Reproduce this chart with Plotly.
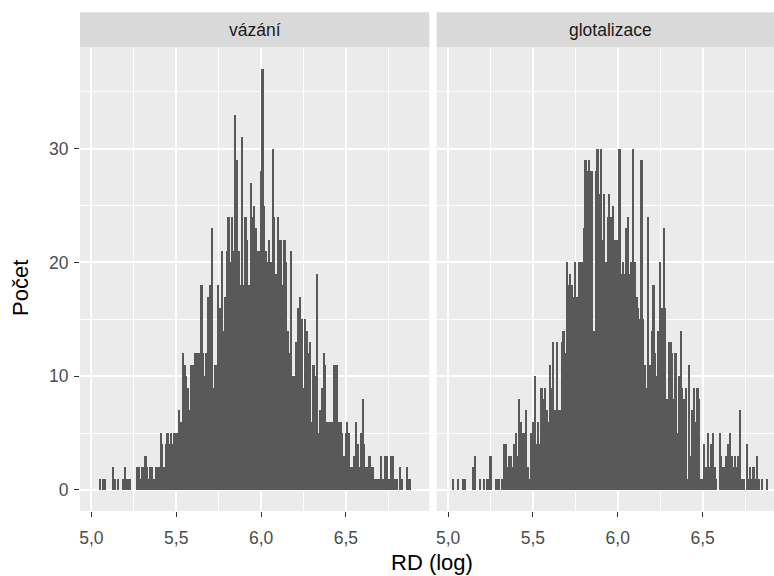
import plotly.graph_objects as go

# ---- histogram data: counts per 0.01-wide bin of RD (log) ----
bin_width = 0.01

vazani_first_bin = 5.05
vazani_counts = [
    1, 0, 1, 1, 0, 0, 0, 0, 2, 1,
    0, 1, 0, 0, 1, 2, 1, 1, 1, 0,
    0, 0, 2, 2, 1, 2, 2, 3, 2, 1,
    2, 2, 1, 2, 2, 2, 5, 4, 2, 4,
    5, 4, 5, 4, 5, 5, 5, 7, 6, 12,
    11, 10, 9, 7, 11, 11, 12, 12, 12, 12,
    18, 12, 10, 12, 17, 18, 23, 9, 11, 11,
    18, 16, 21, 14, 17, 21, 24, 20, 24, 21,
    33, 29, 21, 18, 31, 18, 24, 22, 18, 27,
    24, 25, 23, 21, 21, 28, 37, 25, 21, 20,
    22, 20, 30, 24, 19, 24, 22, 22, 18, 22,
    20, 14, 12, 21, 10, 10, 13, 16, 17, 15,
    9, 15, 14, 12, 13, 6, 11, 10, 19, 5,
    7, 9, 12, 11, 6, 6, 6, 6, 11, 11,
    11, 6, 6, 5, 3, 5, 6, 5, 2, 2,
    3, 6, 4, 2, 5, 8, 4, 2, 2, 3,
    2, 2, 1, 1, 1, 1, 3, 1, 3, 3,
    1, 1, 3, 3, 1, 1, 0, 2, 1, 0,
    0, 2, 1, 1,
]

glot_first_bin = 5.02
glot_counts = [
    0, 1, 0, 0, 1, 0, 0, 1, 1, 0,
    0, 0, 0, 2, 3, 0, 0, 1, 0, 1,
    0, 1, 1, 3, 0, 0, 1, 1, 1, 0,
    1, 4, 4, 2, 3, 3, 2, 4, 5, 3,
    8, 6, 5, 5, 7, 2, 1, 5, 6, 10,
    4, 6, 4, 9, 8, 9, 7, 6, 11, 9,
    13, 7, 13, 7, 7, 13, 14, 12, 20, 18,
    19, 18, 17, 20, 17, 20, 20, 20, 23, 29,
    28, 29, 28, 28, 14, 28, 30, 26, 30, 22,
    26, 20, 24, 26, 24, 25, 22, 22, 22, 30,
    19, 20, 19, 23, 24, 19, 20, 30, 20, 17,
    16, 15, 29, 15, 11, 9, 24, 11, 14, 18,
    12, 10, 14, 20, 16, 23, 16, 8, 13, 13,
    12, 8, 12, 5, 10, 14, 9, 8, 9, 1,
    11, 3, 7, 9, 6, 9, 8, 1, 1, 4,
    2, 5, 2, 4, 5, 2, 1, 0, 5, 3,
    2, 2, 3, 4, 5, 3, 2, 3, 2, 3,
    7, 1, 1, 0, 4, 1, 2, 1, 2, 1,
    3, 1, 0, 1, 0, 0, 1,
]

panel_titles = ["vázání", "glotalizace"]
x_ticks = [5.0, 5.5, 6.0, 6.5]
x_tick_labels = ["5,0", "5,5", "6,0", "6,5"]
x_minor = [5.25, 5.75, 6.25, 6.75]
y_ticks = [0, 10, 20, 30]
y_tick_labels = ["0", "10", "20", "30"]
y_minor = [5, 15, 25, 35]


def bin_centers(first, counts):
    return [round(first + i * bin_width, 4) for i in range(len(counts))]


# ---- page geometry (pixels) ----
W, H = 774, 576
FONT = "Liberation Sans, Arial, Helvetica, sans-serif"
PANEL_BG = "#EBEBEB"
STRIP_BG = "#D9D9D9"
BAR = "#595959"

panel_top, panel_bottom = 48, 511
left_x0, left_x1 = 80, 429.3
right_x0, right_x1 = 436.7, 784.0      # right panel runs past the page edge
strip_top, strip_bottom = 12.3, 47.5

x_lo = 4.933
px_per_unit = 169.7
x_hi_left = x_lo + (left_x1 - left_x0) / px_per_unit
x_hi_right = x_lo + (W - right_x0) / px_per_unit
y_range = [-1.85, 38.85]


def fx(p):
    return p / W


def fy(p):
    return 1 - p / H


fig = go.Figure()
fig.add_trace(go.Bar(
    x=bin_centers(vazani_first_bin, vazani_counts), y=vazani_counts,
    width=bin_width, marker=dict(color=BAR, line=dict(width=0)),
    xaxis="x", yaxis="y", showlegend=False, hoverinfo="x+y"))
fig.add_trace(go.Bar(
    x=bin_centers(glot_first_bin, glot_counts), y=glot_counts,
    width=bin_width, marker=dict(color=BAR, line=dict(width=0)),
    xaxis="x2", yaxis="y2", showlegend=False, hoverinfo="x+y"))

tick_font = dict(family=FONT, size=17.5, color="#4D4D4D")

xaxis_common = dict(
    tickmode="array", tickvals=x_ticks, ticktext=x_tick_labels,
    ticks="outside", ticklen=5, tickwidth=1.1, tickcolor="#333333",
    tickfont=tick_font, ticklabelstandoff=6,
    showgrid=True, gridcolor="white", gridwidth=2,
    minor=dict(tickmode="array", tickvals=x_minor, showgrid=True,
               gridcolor="white", gridwidth=1, ticks=""),
    zeroline=False, showline=False, fixedrange=True,
)
yaxis_common = dict(
    range=y_range, domain=[fy(panel_bottom), fy(panel_top)],
    tickmode="array", tickvals=y_ticks, ticktext=y_tick_labels,
    showgrid=True, gridcolor="white", gridwidth=2,
    minor=dict(tickmode="array", tickvals=y_minor, showgrid=True,
               gridcolor="white", gridwidth=1, ticks=""),
    zeroline=False, showline=False, fixedrange=True,
)

fig.update_layout(
    width=W, height=H,
    margin=dict(l=0, r=0, t=0, b=0),
    paper_bgcolor="white", plot_bgcolor=PANEL_BG,
    bargap=0, barmode="overlay",
    font=dict(family=FONT, color="#1A1A1A"),
    xaxis=dict(domain=[fx(left_x0), fx(left_x1)], range=[x_lo, x_hi_left],
               anchor="y", **xaxis_common),
    xaxis2=dict(domain=[fx(right_x0), 1.0], range=[x_lo, x_hi_right],
                anchor="y2", **xaxis_common),
    yaxis=dict(anchor="x", ticks="outside", ticklen=5, tickwidth=1.1,
               tickcolor="#333333", tickfont=tick_font,
               ticklabelstandoff=2, **yaxis_common),
    yaxis2=dict(anchor="x2", showticklabels=False, ticks="", **yaxis_common),
)

# facet strips
for x0, x1 in [(left_x0, left_x1), (right_x0, right_x1)]:
    fig.add_shape(type="rect", xref="paper", yref="paper",
                  x0=fx(x0), x1=fx(x1), y0=fy(strip_bottom), y1=fy(strip_top),
                  fillcolor=STRIP_BG, line=dict(width=0), layer="below")

strip_mid = (strip_top + strip_bottom) / 2
for title, (x0, x1) in zip(panel_titles, [(left_x0, left_x1), (right_x0, right_x1)]):
    fig.add_annotation(text=title, xref="paper", yref="paper",
                       x=fx((x0 + x1) / 2), y=fy(strip_mid),
                       xanchor="center", yanchor="middle", showarrow=False,
                       font=dict(family=FONT, size=17.5, color="#1A1A1A"))

# axis titles
fig.add_annotation(text="RD (log)", xref="paper", yref="paper",
                   x=fx((left_x0 + right_x1) / 2), y=fy(562),
                   xanchor="center", yanchor="middle", showarrow=False,
                   font=dict(family=FONT, size=22, color="black"))
fig.add_annotation(text="Počet", xref="paper", yref="paper",
                   x=fx(20), y=fy(288),
                   xanchor="center", yanchor="middle", showarrow=False,
                   textangle=-90,
                   font=dict(family=FONT, size=22, color="black"))

fig.write_html("out.html")
